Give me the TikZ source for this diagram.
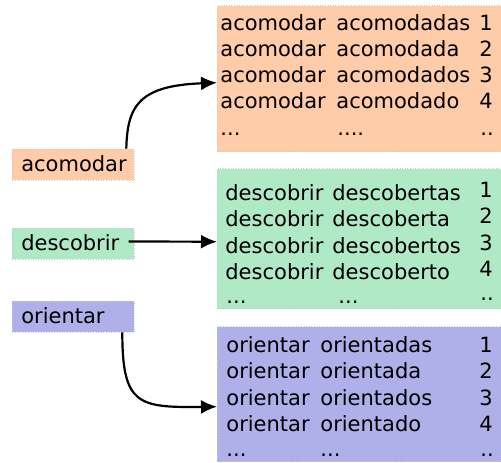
\documentclass[tikz,border=0pt]{standalone}
\usepackage{fontspec}
\setmainfont{DejaVu Sans}
\usetikzlibrary{arrows.meta}
\definecolor{peach}{RGB}{255, 204, 170}
\definecolor{mint}{RGB}{175, 233, 198}
\definecolor{lavender}{RGB}{175, 175, 233}

\begin{document}
\begin{tikzpicture}[x=0.5pt, y=0.5pt, font=\fontsize{10.5}{13}\selectfont,
    word/.style={anchor=base west, inner sep=0pt},
    verb/.style={anchor=base west, text width=52pt, align=left, inner xsep=4.5pt,
      inner ysep=0pt, text height=11pt, text depth=4.5pt,
      draw=black!20, densely dotted, line width=0.3pt},
    formbox/.style={anchor=south west, minimum width=142pt, inner sep=0pt,
      draw=black!20, densely dotted, line width=0.3pt},
    link/.style={-{Latex[length=8pt, width=7pt]}, line width=1.1pt}]
      \useasboundingbox (0, 0) rectangle (501, 462);
      % verbs
      \node[verb, fill=peach]    (acomodar)  at (12, 291) {acomodar};
      \node[verb, fill=mint]     (descobrir) at (12, 212) {descobrir};
      \node[verb, fill=lavender] (orientar)  at (12, 139) {orientar};
      % forms
      \node[formbox, fill=peach,    minimum height=73pt]   (acoForms) at (217, 310) {};
      \node[formbox, fill=mint,     minimum height=70pt]   (desForms) at (217, 153) {};
      \node[formbox, fill=lavender, minimum height=67.5pt] (oriForms) at (217, 0)   {};
      \foreach \f [count=\i] in {acomodadas, acomodada, acomodados, acomodado} {
        \node[word] (aco\i a) at (220, 458 - 26*\i) {acomodar};
        \node[word] (aco\i b) at (336, 458 - 26*\i) {\f};
        \node[word] (aco\i c) at (479, 458 - 26*\i) {\i};
      }
      \node[word] (aco5a) at (220, 327) {...};
      \node[word] (aco5b) at (337, 327) {....};
      \node[word] (aco5c) at (480, 327) {..};
      \foreach \f [count=\i] in {descobertas, descoberta, descobertos, descoberto} {
        \node[word] (des\i a) at (225, 288.5 - 26.5*\i) {descobrir};
        \node[word] (des\i b) at (332, 288.5 - 26.5*\i) {\f};
        \node[word] (des\i c) at (479, 291.5 - 26.5*\i) {\i};
      }
      \node[word] (des5a) at (226, 159) {...};
      \node[word] (des5b) at (338, 159) {...};
      \node[word] (des5c) at (480, 162) {..};
      \foreach \f [count=\i] in {orientadas, orientada, orientados, orientado} {
        \node[word] (ori\i a) at (226, 136.5 - 26.5*\i) {orientar};
        \node[word] (ori\i b) at (320, 136.5 - 26.5*\i) {\f};
        \node[word] (ori\i c) at (479, 136.5 - 26.5*\i) {\i};
      }
      \node[word] (ori5a) at (226, 6) {...};
      \node[word] (ori5b) at (320, 6) {...};
      \node[word] (ori5c) at (480, 6) {..};
      % links
      \draw[link] ([xshift=26.5pt]acomodar.north) .. controls +(1, 43) and +(-78, -3) .. ([yshift=-2pt]acoForms.west);
      \draw[link] ([xshift=-3pt, yshift=1pt]descobrir.east) -- ([yshift=-1.5pt]desForms.west);
      \draw[link] ([xshift=24.5pt]orientar.south) .. controls +(0, -73) and +(-79, -1) .. ([yshift=-6.25pt]oriForms.west);
    \end{tikzpicture}
\end{document}
